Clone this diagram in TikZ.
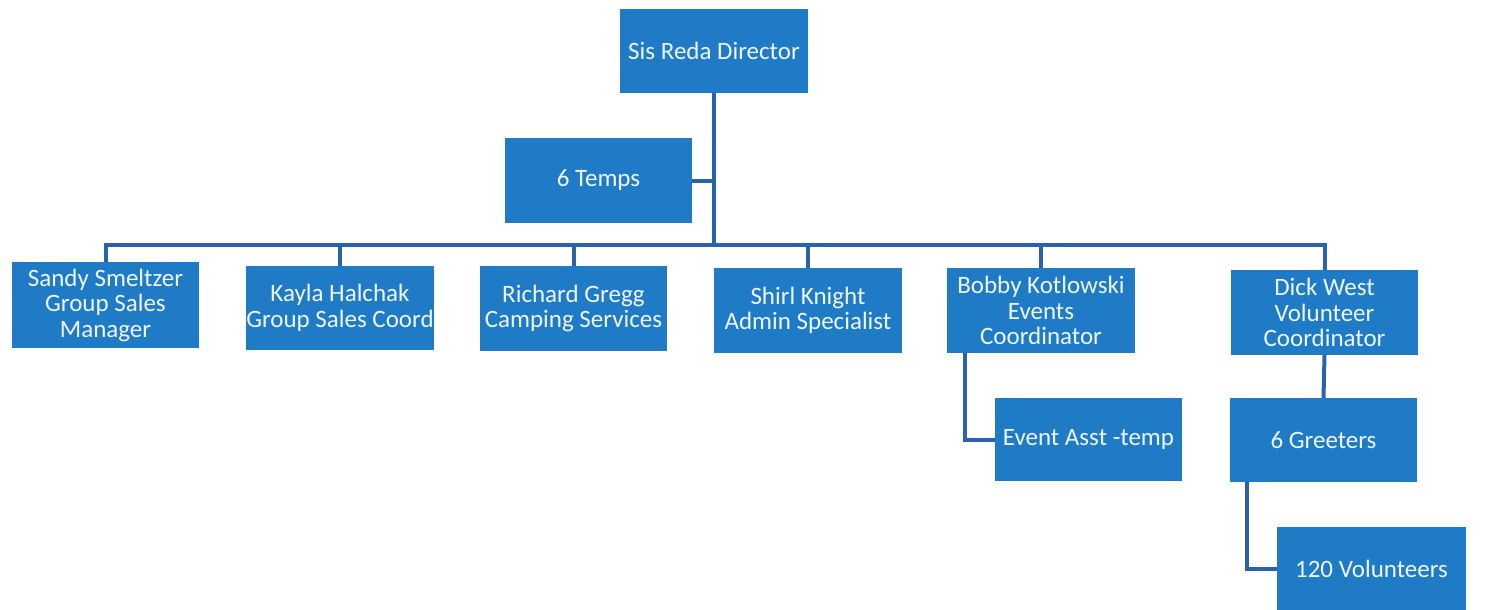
\documentclass[tikz,border=0pt]{standalone}
\usepackage{fontspec}
\setmainfont{Carlito}
\definecolor{boxblue}{HTML}{1F7BC6}
\definecolor{lineblue}{HTML}{2B62AC}
\definecolor{txt}{HTML}{EEF6FF}
\begin{document}
\begin{tikzpicture}[x=1pt,y=-1pt,
  orgbox/.style={draw=none,fill=boxblue,text=txt,align=center,inner sep=0pt,
    font=\fontsize{25}{25.5}\selectfont},
  link/.style={draw=lineblue,line width=4pt}]
\useasboundingbox (0,0) rectangle (1499,610);
\node[orgbox,minimum width=188pt,minimum height=84pt] (dir) at (714,51) {Sis Reda Director};
\node[orgbox,minimum width=187pt,minimum height=85pt] (temps) at (598.5,180.5) {6 Temps};
\node[orgbox,minimum width=187pt,minimum height=86pt] (sandy) at (105.5,305) {Sandy Smeltzer\\Group Sales\\Manager};
\node[orgbox,minimum width=188pt,minimum height=84pt] (kayla) at (340,308) {Kayla Halchak\\Group Sales Coord};
\node[orgbox,minimum width=187pt,minimum height=85pt] (richard) at (573.5,308.5) {Richard Gregg\\Camping Services};
\node[orgbox,minimum width=188pt,minimum height=85pt] (shirl) at (808,310.5) {Shirl Knight\\Admin Specialist};
\node[orgbox,minimum width=188pt,minimum height=85pt] (bobby) at (1041,310.5) {Bobby Kotlowski\\Events\\Coordinator};
\node[orgbox,minimum width=187pt,minimum height=85pt] (dick) at (1324.5,312.5) {Dick West\\Volunteer\\Coordinator};
\node[orgbox,minimum width=187pt,minimum height=83pt] (event) at (1088.5,439.5) {Event Asst -temp};
\node[orgbox,minimum width=187pt,minimum height=84pt] (greet) at (1323.5,440) {6 Greeters};
\node[orgbox,minimum width=189pt,minimum height=83pt] (vol) at (1371.5,568.5) {120 Volunteers};
\coordinate (busL) at (105.5,245);
\coordinate (busR) at (1324.5,245);
\coordinate (busM) at (714,245);
\draw[link] (dir.south) -- (busM);
\draw[link] (temps.east) -- (temps.east -| busM);
\draw[link,line cap=rect] (busL) -- (busR);
\draw[link] (busL) -- (sandy.north);
\draw[link] (kayla.north |- busM) -- (kayla.north);
\draw[link] (richard.north |- busM) -- (richard.north);
\draw[link] (shirl.north |- busM) -- (shirl.north);
\draw[link] (bobby.north |- busM) -- (bobby.north);
\draw[link] (busR) -- (dick.north);
\draw[link] (bobby.south -| 965,0) |- (event.west);
\draw[link] (dick.south) -- (greet.north);
\draw[link] (greet.south -| 1247,0) |- (vol.west);
\end{tikzpicture}
\end{document}
